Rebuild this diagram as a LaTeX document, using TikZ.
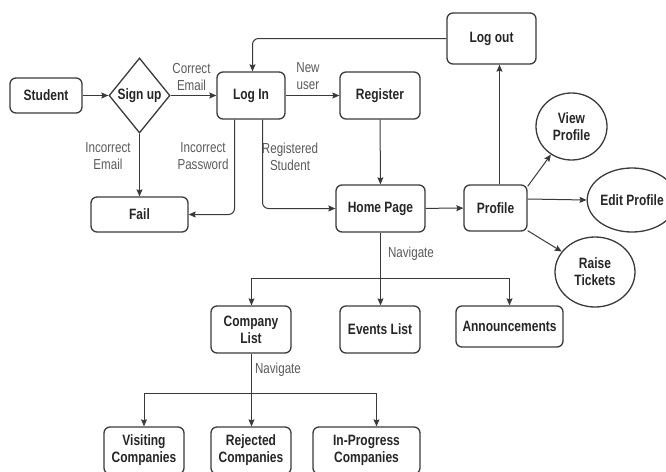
\documentclass[tikz,border=0pt]{standalone}
\usepackage{fontspec}
\setmainfont{Liberation Sans}[FakeStretch=0.8]
\usetikzlibrary{shapes.geometric,arrows.meta}
\definecolor{ln}{HTML}{3A3A3A}
\definecolor{lb}{HTML}{5A5A5A}
\tikzset{
  box/.style={draw=ln, line width=1.3pt, rounded corners=6pt, inner sep=1pt, align=center,
    font=\fontsize{15}{17}\selectfont\bfseries, text=black!85},
  ell/.style={draw=ln, line width=1.3pt, ellipse, inner sep=0pt, align=center,
    font=\fontsize{15}{17}\selectfont\bfseries, text=black!85},
  dia/.style={draw=ln, line width=1.3pt, diamond, inner sep=0pt, align=center,
    font=\fontsize{15}{17}\selectfont\bfseries, text=black!85},
  lbl/.style={align=center, inner sep=0pt, text=lb, font=\fontsize{14.5}{17}\selectfont},
  arr/.style={draw=ln, line width=1pt, -{Stealth[length=7pt,width=6pt,inset=1pt]}},
  arrr/.style={arr, rounded corners=6pt},
}
\begin{document}
\begin{tikzpicture}[x=1pt,y=-1pt]
\useasboundingbox (0,0) rectangle (666,471);
% nodes
\node[box, minimum width=72pt, minimum height=35pt] (student) at (46,95.5) {Student};
\node[dia, minimum width=61pt, minimum height=75pt] (signup) at (139.5,95.5) {Sign up};
\node[box, minimum width=68pt, minimum height=47pt] (login) at (251,95.5) {Log In};
\node[box, minimum width=97pt, minimum height=35pt] (fail) at (139.5,214.5) {Fail};
\node[box, minimum width=80pt, minimum height=47pt] (register) at (380,95.5) {Register};
\node[box, minimum width=89pt, minimum height=51pt] (logout) at (491.5,38.5) {Log out};
\node[box, minimum width=89pt, minimum height=47pt] (home) at (380.5,208.5) {Home Page};
\node[box, minimum width=63pt, minimum height=46pt] (profile) at (495.5,208) {Profile};
\node[ell, minimum width=71pt, minimum height=67pt] (view) at (571.5,126.5) {View\\Profile};
\node[ell, minimum width=68pt, minimum height=64pt] (edit) at (632,200) {Edit Profile};
\node[ell, minimum width=80pt, minimum height=70pt] (raise) at (595,272) {Raise\\Tickets};
\node[box, minimum width=80pt, minimum height=47pt] (company) at (251,329.5) {Company\\List};
\node[box, minimum width=80pt, minimum height=47pt] (events) at (380,329.5) {Events List};
\node[box, minimum width=107pt, minimum height=41pt] (announce) at (509.5,326.5) {Announcements};
\node[box, minimum width=80pt, minimum height=47pt] (visiting) at (144,450.5) {Visiting\\Companies};
\node[box, minimum width=80pt, minimum height=47pt] (rejected) at (251,450.5) {Rejected\\Companies};
\node[box, minimum width=107pt, minimum height=47pt] (inprog) at (366.5,450.5) {In-Progress\\Companies};
% labels
\node[lbl] (lce) at (191.5,77) {Correct\\Email};
\node[lbl] (lie) at (108,156.5) {Incorrect\\Email};
\node[lbl] (lip) at (203,156.5) {Incorrect\\Password};
\node[lbl] (lrs) at (290,156.5) {Registered\\Student};
\node[lbl] (lnu) at (308,76.5) {New\\user};
\node[lbl] (ln1) at (411,254) {Navigate};
\node[lbl] (ln2) at (278,370) {Navigate};
% helper coordinates
\coordinate (xf) at (234.5,0);
\coordinate (xh) at (262.5,0);
\coordinate (xp) at (499.5,0);
\coordinate (xl) at (252.5,0);
\coordinate (xi) at (376.5,0);
\coordinate (j1) at (380.5,278.5);
\coordinate (j2) at (251.5,393.5);
% connectors
\draw[arr] (student) -- (signup);
\draw[arr] (signup) -- (login);
\draw[arr] (signup) -- (fail);
\draw[arrr] (login.south -| xf) |- (fail.east);
\draw[arrr] (login.south -| xh) |- (home.west);
\draw[arr] (login) -- (register);
\draw[arr] (register) -- (home);
\draw[arr] (home) -- (profile);
\draw[arr] (profile.north -| xp) -- (logout.south -| xp);
\draw[arrr] (logout.west) -| (login.north -| xl);
\draw[arr] ([yshift=-2pt]profile.north east) -- (view);
\draw[arr] ([yshift=9pt]profile.east) -- (edit.west);
\draw[arr] ([yshift=1pt]profile.south east) -- (raise);
\draw[arr] (home.south -| j1) -- (events.north -| j1);
\draw[arr] (j1) -| (company.north -| j2);
\draw[arr] (j1) -| (announce.north);
\draw[arr] (company.south -| j2) -- (rejected.north -| j2);
\draw[arr] (j2) -| (visiting.north);
\draw[arr] (j2) -| (inprog.north -| xi);
\end{tikzpicture}
\end{document}
